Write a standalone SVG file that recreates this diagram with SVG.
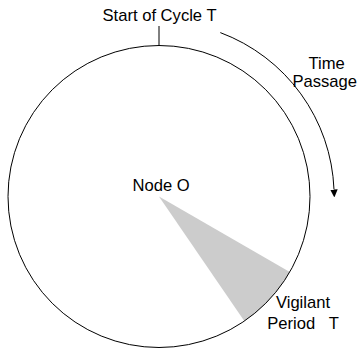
<svg xmlns="http://www.w3.org/2000/svg" width="358" height="354" viewBox="0 0 358 354">
<style>
  text { font-family: "Liberation Sans", Arial, sans-serif; font-size: 16.6px; fill: #000; }
  .line { fill: none; stroke: #000; stroke-width: 1; }
  .wedge { fill: #cccccc; stroke: none; }
</style>
<defs>
  <marker id="arrow" markerWidth="8" markerHeight="8" refX="0" refY="3.25" orient="auto" markerUnits="userSpaceOnUse" viewBox="0 0 7 6.5">
    <path d="M0,0 L7,3.25 L0,6.5 Z" fill="#000"/>
  </marker>
</defs>
<rect width="358" height="354" fill="#fff"/>
<g id="vigilant-wedge">
  <path class="wedge" d="M159,196.5 L289.8,272 A151,151 0 0 1 244.3,321.1 Z"/>
</g>
<g id="cycle">
  <circle class="line" cx="159" cy="196.5" r="151"/>
</g>
<g id="connectors">
  <line class="line" x1="159" y1="26" x2="159" y2="45.5"/>
  <path class="line" d="M220.3,32.6 A175,175 0 0 1 334,189.5" marker-end="url(#arrow)"/>
</g>
<g id="label-start">
  <text x="102.5" y="20.5">Start of Cycle T</text>
</g>
<g id="label-time">
  <text x="326.7" y="69" text-anchor="middle">Time</text>
  <text x="357" y="86.5" text-anchor="end">Passage</text>
</g>
<g id="node-o">
  <text x="132.5" y="191">Node O</text>
</g>
<g id="label-vigilant">
  <text x="303" y="308.3" text-anchor="middle">Vigilant</text>
  <text x="303" y="329.3" text-anchor="middle" xml:space="preserve" style="white-space:pre">Period   T</text>
</g>
</svg>
